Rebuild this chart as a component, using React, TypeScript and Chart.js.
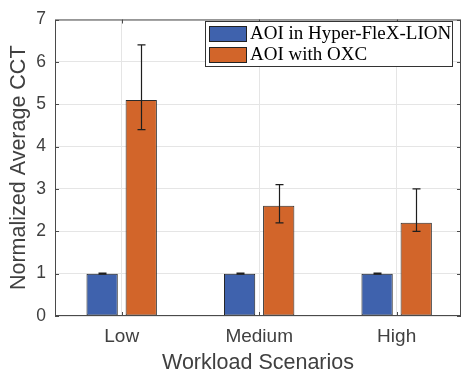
import React, { useEffect, useRef } from 'react';
import { Chart, registerables } from 'chart.js';

Chart.register(...registerables);

const CATEGORIES = ['Low', 'Medium', 'High'];
const SERIES_NAMES = ['AOI in Hyper-FleX-LION', 'AOI with OXC'];
const HYPER_VALUES = [1, 1, 1];
const HYPER_ERR_LOW = [0.99, 0.99, 0.99];
const HYPER_ERR_HIGH = [1.01, 1.01, 1.01];
const OXC_VALUES = [5.1, 2.6, 2.2];
const OXC_ERR_LOW = [4.4, 2.2, 2.0];
const OXC_ERR_HIGH = [6.4, 3.1, 3.0];
const Y_TICKS = [0, 1, 2, 3, 4, 5, 6, 7];

const COLORS = ['#3f62ad', '#d2652a'];
const SANS = '"Liberation Sans", Arial, Helvetica, sans-serif';
const SERIF = '"Liberation Serif", "Times New Roman", serif';
const TEXT = '#404040';
const AXIS = '#4a4a4a';

const ERR_LOW = [HYPER_ERR_LOW, OXC_ERR_LOW];
const ERR_HIGH = [HYPER_ERR_HIGH, OXC_ERR_HIGH];

const matlabPlugin = {
  id: 'matlabBox',
  afterDatasetsDraw(chart: any) {
    const { ctx, chartArea: a, scales } = chart;
    const ys = scales.y;
    ctx.save();
    // error bars
    ctx.strokeStyle = '#1e1e1e';
    ctx.lineWidth = 1.2;
    chart.data.datasets.forEach((_: any, di: number) => {
      const meta = chart.getDatasetMeta(di);
      meta.data.forEach((el: any, j: number) => {
        const x = Math.round(el.x) + 0.5;
        const yl = ys.getPixelForValue(ERR_LOW[di][j]);
        const yh = ys.getPixelForValue(ERR_HIGH[di][j]);
        ctx.beginPath();
        ctx.moveTo(x, yl);
        ctx.lineTo(x, yh);
        ctx.moveTo(x - 4, yl);
        ctx.lineTo(x + 4, yl);
        ctx.moveTo(x - 4, yh);
        ctx.lineTo(x + 4, yh);
        ctx.stroke();
      });
    });
    // box
    ctx.strokeStyle = AXIS;
    ctx.lineWidth = 1;
    ctx.strokeRect(a.left + 0.5, a.top + 0.5, a.right - a.left - 1, a.bottom - a.top - 1);
    // inward ticks
    const tl = 4;
    ctx.beginPath();
    scales.x.ticks.forEach((t: any) => {
      const px = Math.round(scales.x.getPixelForValue(t.value)) + 0.5;
      ctx.moveTo(px, a.bottom);
      ctx.lineTo(px, a.bottom - tl);
      ctx.moveTo(px, a.top);
      ctx.lineTo(px, a.top + tl);
    });
    ys.ticks.forEach((t: any) => {
      const py = Math.round(ys.getPixelForValue(t.value)) + 0.5;
      ctx.moveTo(a.left, py);
      ctx.lineTo(a.left + tl, py);
      ctx.moveTo(a.right, py);
      ctx.lineTo(a.right - tl, py);
    });
    ctx.stroke();
    ctx.restore();
  },
  afterDraw(chart: any) {
    const { ctx } = chart;
    ctx.save();
    // legend box
    const bx = 205.5, by = 21.5, bw = 247, bh = 45;
    ctx.fillStyle = '#ffffff';
    ctx.fillRect(bx, by, bw, bh);
    ctx.strokeStyle = '#333333';
    ctx.lineWidth = 1;
    ctx.strokeRect(bx, by, bw, bh);
    const rows = [26.5, 47.5];
    const baselines = [38.5, 60];
    ctx.font = `19px ${SERIF}`;
    ctx.textBaseline = 'alphabetic';
    ctx.textAlign = 'left';
    chart.data.datasets.forEach((ds: any, i: number) => {
      ctx.fillStyle = ds.backgroundColor;
      ctx.fillRect(209.5, rows[i], 37, 15);
      ctx.strokeStyle = '#222222';
      ctx.strokeRect(209.5, rows[i], 37, 15);
      ctx.fillStyle = '#000000';
      ctx.fillText(ds.label, 250, baselines[i]);
    });
    ctx.restore();
  },
};

export default function App() {
  const ref = useRef<HTMLCanvasElement>(null);
  useEffect(() => {
    if (!ref.current) return;
    const chart = new Chart(ref.current, {
      type: 'bar',
      data: {
        datasets: [
          {
            label: SERIES_NAMES[0],
            data: HYPER_VALUES.map((v, i) => ({ x: i + 1, y: v })),
            backgroundColor: COLORS[0],
            borderColor: '#1f1f1f',
            borderWidth: 1,
            borderSkipped: false,
          },
          {
            label: SERIES_NAMES[1],
            data: OXC_VALUES.map((v, i) => ({ x: i + 1, y: v })),
            backgroundColor: COLORS[1],
            borderColor: '#2b2b2b',
            borderWidth: 1,
            borderSkipped: false,
          },
        ],
      },
      options: {
        animation: false,
        responsive: true,
        maintainAspectRatio: false,
        categoryPercentage: 0.569,
        barPercentage: 0.8,
        layout: { padding: { top: 11, left: 0, right: 0, bottom: 0 } },
        plugins: { legend: { display: false }, tooltip: { enabled: false } },
        scales: {
          x: {
            type: 'linear',
            offset: false,
            min: 0.515,
            max: 3.468,
            afterBuildTicks: (s: any) => {
              s.ticks = CATEGORIES.map((_, i) => ({ value: i + 1 }));
            },
            afterFit: (s: any) => {
              s.height = 63;
            },
            ticks: {
              callback: (v: any) => CATEGORIES[Math.round(v) - 1] ?? '',
              font: { size: 19, family: SANS },
              color: TEXT,
              padding: 9,
              maxRotation: 0,
              autoSkip: false,
            },
            grid: { color: '#e5e5e5', drawTicks: false, offset: false },
            border: { display: false },
            title: {
              display: true,
              text: 'Workload Scenarios',
              font: { size: 21.5, family: SANS },
              color: TEXT,
              padding: { top: 0, bottom: 3 },
            },
          },
          y: {
            min: 0,
            max: 7,
            afterBuildTicks: (s: any) => {
              s.ticks = Y_TICKS.map((v) => ({ value: v }));
            },
            afterFit: (s: any) => {
              s.width = 55;
            },
            ticks: {
              font: { size: 17.5, family: SANS },
              color: TEXT,
              padding: 9,
            },
            grid: { color: '#e5e5e5', drawTicks: false },
            border: { display: false },
            title: {
              display: true,
              text: 'Normalized Average CCT',
              font: { size: 21.5, family: SANS },
              color: TEXT,
              padding: { top: 6.5, bottom: 0 },
            },
          },
        },
      },
      plugins: [matlabPlugin],
    } as any);
    return () => chart.destroy();
  }, []);
  return (
    <div style={{ position: 'fixed', left: 0, top: 0, width: 461, height: 379, background: '#fff' }}>
      <canvas ref={ref} />
    </div>
  );
}
